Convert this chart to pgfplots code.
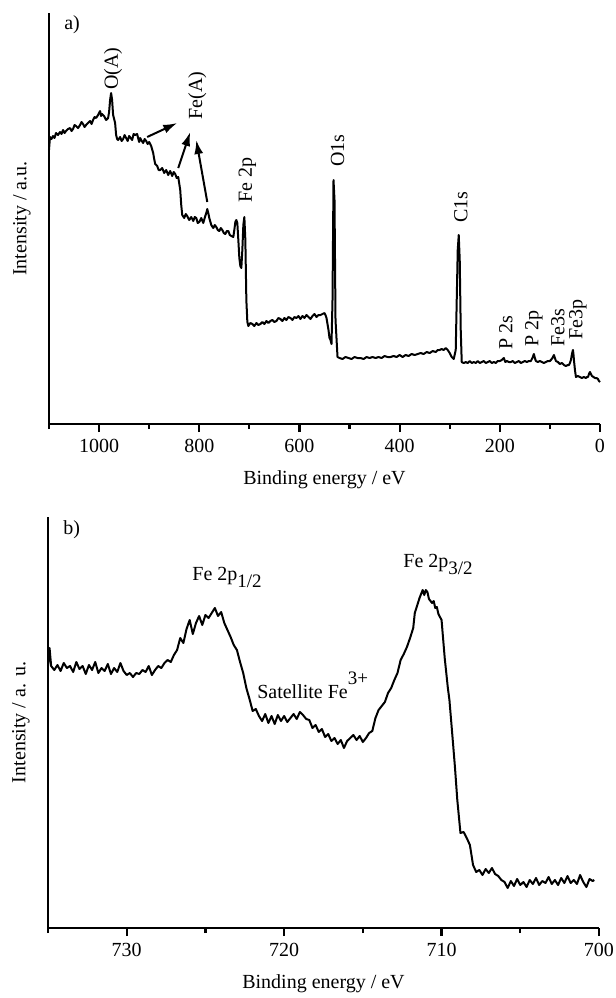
\documentclass[border=0pt]{standalone}
\usepackage{fontspec}
\setmainfont{Liberation Serif}
\usepackage{pgfplots}
\pgfplotsset{compat=1.18}
\usetikzlibrary{arrows.meta}

\tikzset{arr/.style={-{Latex[length=7pt,width=4.5pt]},line width=1pt}}
\pgfplotsset{
  xps/.style={
    scale only axis,
    width=275.5pt, height=205.5pt,
    axis x line*=bottom, axis y line*=left,
    axis line style={line width=1.1pt},
    ymin=0, ymax=411,
    ytick=\empty,
    x dir=reverse,
    tick align=outside,
    major tick length=4pt, minor tick length=2.5pt,
    every tick/.style={line width=1.1pt,black},
    font=\fontsize{10}{12}\selectfont,
    /pgf/number format/assume math mode=true,
    /pgf/number format/1000 sep={},
    scaled x ticks=false,
    xlabel={Binding energy / eV},
    xlabel style={at={(axis description cs:0.5,-0.135)},anchor=center},
    ylabel style={at={(axis description cs:-0.049,0.5)},anchor=center},
    clip=false,
  },
  spec/.style={black, line width=1pt, line join=round, mark=none},
}

\begin{document}
\begin{tikzpicture}
\useasboundingbox (0,0) rectangle (308pt,-499pt);

% a) survey spectrum
\begin{axis}[xps,
    at={(24.5pt,-212pt)}, anchor=south west,
    xmin=0, xmax=1100,
    xtick={0,200,400,600,800,1000},
    minor xtick={100,300,500,700,900,1100},
    ylabel={Intensity / a.u.},
]
\addplot[spec] table {
1100 274
1098 287
1095 285
1092 288
1089 286
1086 291
1082 289
1078 292
1075 290
1072 294
1069 291
1066 293
1062 295
1058 296
1055 293
1052 295
1049 299
1046 298
1042 296
1038 299
1035 302
1032 300
1029 297
1026 299
1022 301
1018 303
1015 300
1012 304
1009 307
1006 306
1002 309
998 313
996 308
994 310
990 308
986 304
982 306
980 312
978 324
976 331
974 324
972 309
968 301
966 289
964 285
962 284
958 287
955 283
952 285
949 289
946 286
943 283
940 288
937 286
934 284
931 290
928 289
924 290
920 282
918 286
916 284
912 281
909 285
906 283
903 280
900 282
896 278
892 271
890 265
888 260
884 258
881 254
878 254
874 256
870 251
866 254
862 249
858 253
854 248
851 252
848 250
845 246
842 247
838 234
836 219
834 209
830 206
827 210
824 208
820 204
816 207
812 203
809 207
806 206
803 201
800 202
796 206
792 201
788 208
786 211
784 215
782 211
780 206
776 199
772 196
769 199
766 197
763 194
760 193
757 196
754 194
751 191
748 190
745 193
742 193
739 189
736 188
732 187
730 194
728 202
726 204
724 201
722 184
720 166
718 158
716 156
714 174
712 199
710 207
708 184
706 124
704 102
702 98
698 101
694 100
690 98
686 101
682 99
678 100
674 102
670 100
666 103
662 101
658 103
654 104
650 102
646 103
642 106
638 105
634 103
630 106
626 104
622 107
618 106
614 104
610 107
606 106
602 108
598 105
594 108
590 106
586 109
582 107
578 105
574 108
570 110
566 107
562 109
558 109
554 110
550 111
548 109
546 106
542 94
540 86
538 84
536 80
534 124
532 244
530 224
528 104
524 67
520 66
514 65
508 67
502 66
496 65
490 67
484 66
478 66
472 65
466 67
460 66
454 67
448 66
442 67
436 66
430 68
424 67
418 67
412 68
406 67
400 69
394 67
388 69
382 68
376 70
370 69
364 70
358 71
352 70
346 72
340 71
334 73
328 72
324 74
320 74
316 75
312 74
308 76
304 74
300 71
296 67
292 65
288 74
286 124
284 174
282 189
280 164
278 94
276 62
272 61
268 62
264 61
260 63
256 61
252 62
248 61
244 63
240 61
236 62
232 63
228 61
224 62
220 63
216 61
212 62
208 61
204 63
200 63
196 64
192 66
189 62
186 63
182 62
178 62
174 63
170 61
166 62
162 63
158 61
154 62
150 63
146 62
142 63
138 63
134 67
132 70
130 66
128 63
124 62
120 63
116 62
112 61
108 62
104 63
100 63
98 64
95 66
92 69
90 66
88 63
84 62
80 60
76 61
72 59
68 58
64 59
62 59
60 61
58 64
56 70
54 74
53 70
52 64
50 54
48 47
44 48
40 47
36 46
32 47
28 46
26 47
24 47
22 50
20 52
18 50
16 48
13 47
10 46
7 46
4 45
2 43
0 42
};
\node at (axis cs:1054,399) {a)};
\node[rotate=90,anchor=west,inner sep=0pt] at (axis cs:972,334) {O(A)};
\node[rotate=90,anchor=west,inner sep=0pt] at (axis cs:804,304) {Fe(A)};
\node[rotate=90,anchor=west,inner sep=0pt] at (axis cs:704,221) {Fe 2p};
\node[rotate=90,anchor=west,inner sep=0pt] at (axis cs:524,257) {O1s};
\node[rotate=90,anchor=west,inner sep=0pt] at (axis cs:278,201) {C1s};
\node[rotate=90,anchor=west,inner sep=0pt] at (axis cs:188,74) {P 2s};
\node[rotate=90,anchor=west,inner sep=0pt] at (axis cs:132,77) {P 2p};
\node[rotate=90,anchor=west,inner sep=0pt] at (axis cs:84,77) {Fe3s};
\node[rotate=90,anchor=west,inner sep=0pt] at (axis cs:44,84) {Fe3p};
\draw[arr] (axis cs:904,287) -- (axis cs:844,301);
\draw[arr] (axis cs:842,256) -- (axis cs:818,292);
\draw[arr] (axis cs:784,222) -- (axis cs:806,284);
\end{axis}

% b) Fe 2p region
\begin{axis}[xps,
    at={(24pt,-464pt)}, anchor=south west,
    xmin=700, xmax=735,
    xtick={700,710,720,730},
    minor xtick={705,715,725,735},
    ylabel={Intensity / a. u.},
]
\addplot[spec] table {
735.0 262
734.9 280
734.8 262
734.6 258
734.4 263
734.2 257
734.0 265
733.8 260
733.6 262
733.4 256
733.2 266
733.0 259
732.8 262
732.6 254
732.4 263
732.2 258
732.0 266
731.8 255
731.6 260
731.4 257
731.2 264
731.0 254
730.8 260
730.6 256
730.4 265
730.2 257
730.0 253
729.8 255
729.6 251
729.4 255
729.2 254
729.0 258
728.8 256
728.6 262
728.4 253
728.2 258
728.0 262
727.8 260
727.6 265
727.4 268
727.2 266
727.0 273
726.8 278
726.6 290
726.4 285
726.2 299
726.0 308
725.8 294
725.6 305
725.4 312
725.2 303
725.0 313
724.8 310
724.6 315
724.4 320
724.2 312
724.0 316
723.8 305
723.6 298
723.4 291
723.2 283
723.0 278
722.8 266
722.6 255
722.4 240
722.2 229
722.0 217
721.8 219
721.6 212
721.4 207
721.2 214
721.0 205
720.8 212
720.6 204
720.4 213
720.2 207
720.0 212
719.8 206
719.6 210
719.4 214
719.2 209
719.0 216
718.8 213
718.6 209
718.4 208
718.2 200
718.0 203
717.8 196
717.6 199
717.4 191
717.2 194
717.0 187
716.8 190
716.6 184
716.4 188
716.2 180
716.0 187
715.8 190
715.6 193
715.4 188
715.2 192
715.0 186
714.8 190
714.6 195
714.4 197
714.2 210
714.0 218
713.8 222
713.6 226
713.4 235
713.2 240
713.0 248
712.8 255
712.6 268
712.4 274
712.2 281
712.0 290
711.8 300
711.7 315
711.5 325
711.4 330
711.2 338
711.1 333
711.0 338
710.9 336
710.8 329
710.6 325
710.5 327
710.4 320
710.3 321
710.2 314
710.0 308
709.8 270
709.6 240
709.5 228
709.3 190
709.15 161
709.0 128
708.8 95
708.6 96
708.4 90
708.2 83
708.0 63
707.8 56
707.6 58
707.4 53
707.2 59
707.0 55
706.8 60
706.6 54
706.4 52
706.2 48
706.0 46
705.8 40
705.6 47
705.4 42
705.2 49
705.0 43
704.8 46
704.6 41
704.4 48
704.2 44
704.0 50
703.8 43
703.6 47
703.4 45
703.2 51
703.0 44
702.8 48
702.6 43
702.4 50
702.2 45
702.0 52
701.8 45
701.6 48
701.4 44
701.2 53
701.0 46
700.8 41
700.6 49
700.4 47
700.3 48
};
\node at (axis cs:733.5,398) {b)};
\node[anchor=base west,inner sep=0pt] at (axis cs:725.85,348)
  {Fe 2p\raisebox{-3.5pt}{\fontsize{9.5}{10}\selectfont 1/2}};
\node[anchor=base west,inner sep=0pt] at (axis cs:712.45,361)
  {Fe 2p\raisebox{-3.5pt}{\fontsize{9.5}{10}\selectfont 3/2}};
\node[anchor=base west,inner sep=0pt] at (axis cs:721.73,230)
  {Satellite Fe\raisebox{7pt}{\fontsize{9.5}{10}\selectfont 3+}};
\end{axis}
\end{tikzpicture}
\end{document}
